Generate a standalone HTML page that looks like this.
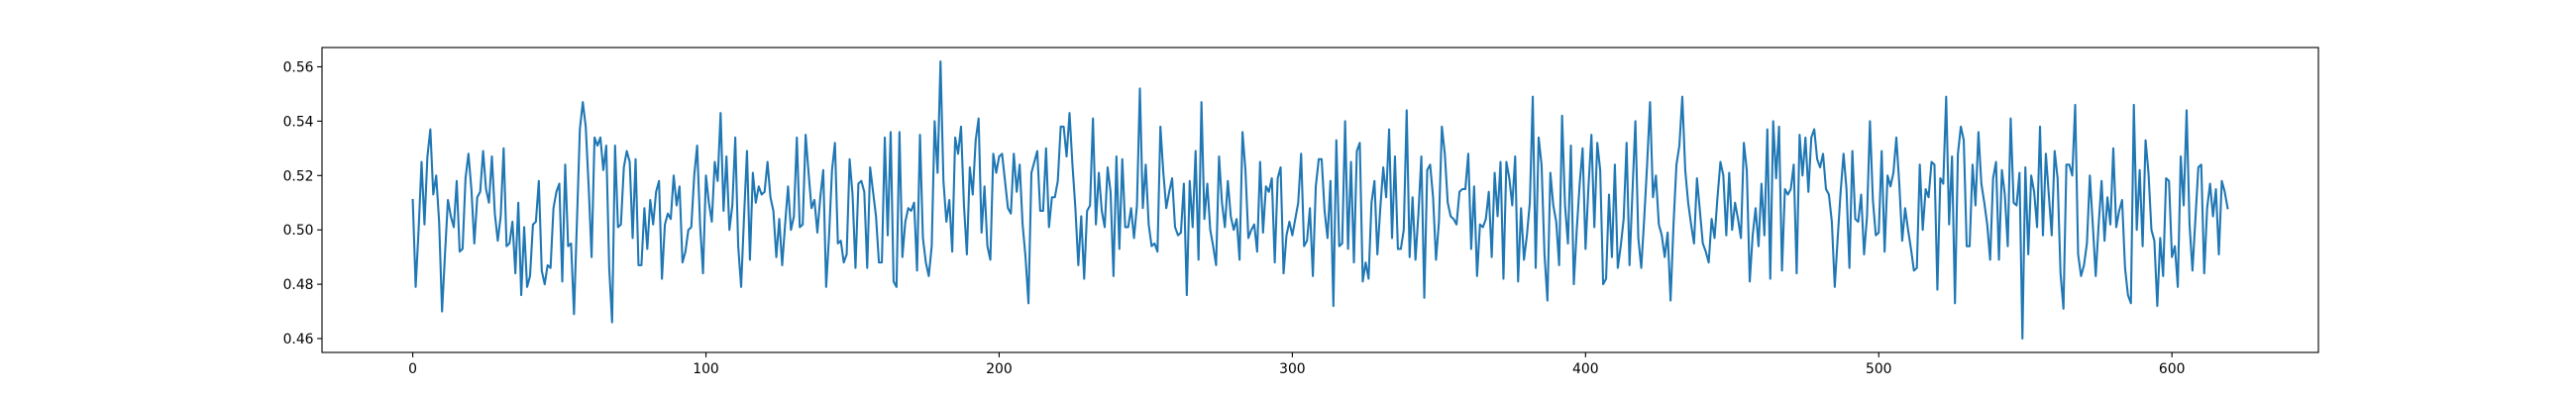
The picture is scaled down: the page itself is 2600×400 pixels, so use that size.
<!DOCTYPE html>
<html><head><meta charset="utf-8"><style>
html,body{margin:0;padding:0;background:#fff;}
svg{display:block;}
text{font-family:"DejaVu Sans","Liberation Sans",sans-serif;font-size:13.9px;fill:#000;}
</style></head><body>
<svg id="chart" width="2600" height="400" viewBox="0 0 2600 400" xmlns="http://www.w3.org/2000/svg">
<rect x="0" y="0" width="2600" height="400" fill="#fff"/>
<g id="plot"></g>
</svg>
<script>
const seriesA = [0.511,0.479,0.500,0.525,0.502,0.527,0.537,0.513,0.520,0.503,0.470,0.491,0.511,0.505,0.501,0.518,0.492,0.493,0.519,0.528,0.515,0.495,0.512,0.514,0.529,0.515,0.510,0.527,0.506,0.496,0.505,0.530,0.494,0.495,0.503,0.484,0.510,0.476,0.501,0.479,0.483,0.502,0.503,0.518,0.485,0.480,0.487,0.486,0.508,0.514,0.517,0.481,0.524,0.494,0.495,0.469,0.503,0.537,0.547,0.538,0.516,0.490,0.534,0.531,0.534,0.522,0.531,0.486,0.466,0.531,0.501,0.502,0.523,0.529,0.525,0.497,0.526,0.487,0.487];
const seriesB = [0.508,0.493,0.511,0.502,0.514,0.518,0.482,0.502,0.506,0.504,0.520,0.509,0.516,0.488,0.492,0.500,0.501,0.520,0.531,0.502,0.484,0.520,0.510,0.503,0.525,0.518,0.543,0.507,0.527,0.500,0.509,0.534,0.494,0.479,0.505,0.529,0.489,0.521,0.510,0.516,0.513,0.514,0.525,0.512,0.507,0.490,0.504,0.487,0.502,0.516,0.500,0.505,0.534,0.501,0.502,0.535,0.521,0.508,0.511,0.499,0.512,0.522,0.479,0.498,0.522,0.532,0.495];
const seriesC = [0.496,0.488,0.491,0.526,0.513,0.486,0.517,0.518,0.514,0.486,0.523,0.514,0.505,0.488,0.488,0.534,0.498,0.536,0.481,0.479,0.536,0.490,0.503,0.508,0.507,0.510,0.485,0.535,0.497,0.488,0.483,0.494,0.540,0.521,0.562,0.518,0.503,0.511,0.492,0.534,0.528,0.538,0.509,0.491,0.523,0.513,0.533,0.541,0.499,0.516,0.494,0.489,0.528,0.521,0.527,0.528,0.518,0.508,0.506,0.528,0.514,0.524,0.502,0.490,0.473,0.521,0.525];
const seriesD = [0.529,0.507,0.507,0.530,0.501,0.512,0.512,0.518,0.538,0.538,0.527,0.543,0.524,0.508,0.487,0.505,0.482,0.507,0.509,0.541,0.502,0.521,0.507,0.501,0.523,0.514,0.483,0.527,0.493,0.526,0.501,0.501,0.508,0.497,0.509,0.552,0.508,0.524,0.502,0.494,0.495,0.492,0.538,0.521,0.508,0.514,0.519,0.501,0.498,0.499,0.517,0.476,0.518,0.501,0.529,0.489,0.547,0.504,0.517,0.500,0.494,0.487,0.527,0.510,0.501,0.518,0.505];
const seriesE = [0.500,0.504,0.489,0.536,0.522,0.497,0.500,0.502,0.492,0.525,0.499,0.516,0.514,0.519,0.488,0.519,0.523,0.484,0.498,0.503,0.498,0.504,0.510,0.528,0.494,0.496,0.508,0.483,0.516,0.526,0.526,0.507,0.497,0.518,0.472,0.533,0.494,0.495,0.540,0.493,0.525,0.488,0.529,0.532,0.481,0.488,0.482,0.510,0.518,0.491,0.508,0.523,0.512,0.537,0.497,0.527,0.493,0.493,0.500,0.544,0.490,0.512,0.489,0.506,0.527,0.475,0.522];
const seriesF = [0.524,0.512,0.489,0.503,0.538,0.528,0.510,0.505,0.504,0.502,0.514,0.515,0.515,0.528,0.493,0.516,0.483,0.502,0.501,0.504,0.514,0.490,0.521,0.505,0.525,0.482,0.525,0.519,0.509,0.527,0.481,0.508,0.489,0.498,0.510,0.549,0.486,0.534,0.524,0.491,0.474,0.521,0.509,0.503,0.487,0.542,0.509,0.495,0.531,0.480,0.500,0.517,0.530,0.493,0.516,0.535,0.501,0.532,0.522,0.480,0.482,0.513,0.490,0.524,0.486,0.494,0.504];
const seriesG = [0.532,0.487,0.514,0.540,0.497,0.486,0.504,0.524,0.547,0.512,0.520,0.502,0.498,0.490,0.499,0.474,0.502,0.524,0.531,0.549,0.522,0.510,0.502,0.495,0.519,0.507,0.495,0.492,0.488,0.504,0.497,0.512,0.525,0.520,0.498,0.521,0.500,0.510,0.504,0.497,0.532,0.522,0.481,0.498,0.508,0.494,0.517,0.498,0.537,0.482,0.540,0.519,0.538,0.485,0.515,0.513,0.515,0.524,0.484,0.535,0.520,0.534,0.514,0.534,0.537,0.526,0.523];
const seriesH = [0.528,0.515,0.513,0.503,0.479,0.497,0.514,0.528,0.515,0.486,0.529,0.504,0.503,0.513,0.491,0.505,0.540,0.511,0.498,0.499,0.529,0.492,0.520,0.516,0.521,0.534,0.517,0.496,0.508,0.500,0.493,0.485,0.486,0.524,0.500,0.515,0.512,0.525,0.524,0.478,0.519,0.517,0.549,0.502,0.527,0.473,0.528,0.538,0.533,0.494,0.494,0.524,0.509,0.536,0.517,0.510,0.502,0.489,0.519,0.525,0.489,0.522,0.513,0.494,0.541,0.510,0.509];
const seriesI = [0.521,0.460,0.523,0.491,0.520,0.514,0.501,0.538,0.498,0.528,0.513,0.498,0.529,0.519,0.484,0.471,0.524,0.524,0.520,0.546,0.491,0.483,0.487,0.495,0.520,0.502,0.483,0.502,0.518,0.496,0.512,0.502,0.530,0.501,0.507,0.511,0.486,0.476,0.473,0.546,0.500,0.522,0.494,0.533,0.521,0.500,0.496,0.472,0.497,0.483,0.519,0.518,0.490,0.494,0.479,0.527,0.509,0.544,0.502,0.485,0.504,0.523,0.524,0.484,0.508,0.517,0.505,0.515,0.491,0.518,0.514,0.508];
const xTicks = [0,100,200,300,400,500,600];
const yTicks = [0.46,0.48,0.50,0.52,0.54,0.56];
const yTickLabels = ["0.46","0.48","0.50","0.52","0.54","0.56"];

const values = [].concat(seriesA,seriesB,seriesC,seriesD,seriesE,seriesF,seriesG,seriesH,seriesI);
const NS = "http://www.w3.org/2000/svg";
const L = 325, R = 2340, T = 48, B = 356;
const n = values.length;
const xMin = -0.05*(n-1), xMax = (n-1)*1.05;
const vMin = Math.min(...values), vMax = Math.max(...values);
const pad = (vMax - vMin)*0.05;
const yMin = vMin - pad, yMax = vMax + pad;
function xs(v){ return L + (v - xMin)/(xMax - xMin)*(R - L); }
function ys(v){ return B - (v - yMin)/(yMax - yMin)*(B - T); }
const plot = document.getElementById('plot');
function mk(tag, attrs){ const e = document.createElementNS(NS, tag); for (const k in attrs) e.setAttribute(k, attrs[k]); return e; }

let d = values.map((v,i)=> (i? 'L':'M') + xs(i).toFixed(2) + ' ' + ys(v).toFixed(2)).join(' ');
const line = mk('path', {d: d, fill:'none', stroke:'#1f77b4', 'stroke-width':'2.08', 'stroke-linejoin':'round', 'stroke-linecap':'square'});


plot.appendChild(line);

const frame = mk('rect', {x:L, y:T, width:R-L, height:B-T, fill:'none', stroke:'#000', 'stroke-width':'1.1'});


plot.appendChild(frame);

xTicks.forEach((t)=>{
  const x = xs(t);
  const tk = mk('line', {x1:x, x2:x, y1:B, y2:B+4.9, stroke:'#000', 'stroke-width':'1.1'});
  
  
  plot.appendChild(tk);
  const lb = mk('text', {x:x, y:B+21, 'text-anchor':'middle'});
  lb.textContent = String(t);
  
  
  plot.appendChild(lb);
});
yTicks.forEach((t,i)=>{
  const y = ys(t);
  const tk = mk('line', {x1:L-4.9, x2:L, y1:y, y2:y, stroke:'#000', 'stroke-width':'1.1'});
  
  
  plot.appendChild(tk);
  const lb = mk('text', {x:L-8.5, y:y+5, 'text-anchor':'end'});
  lb.textContent = yTickLabels[i];
  
  
  plot.appendChild(lb);
});
</script>
</body></html>
